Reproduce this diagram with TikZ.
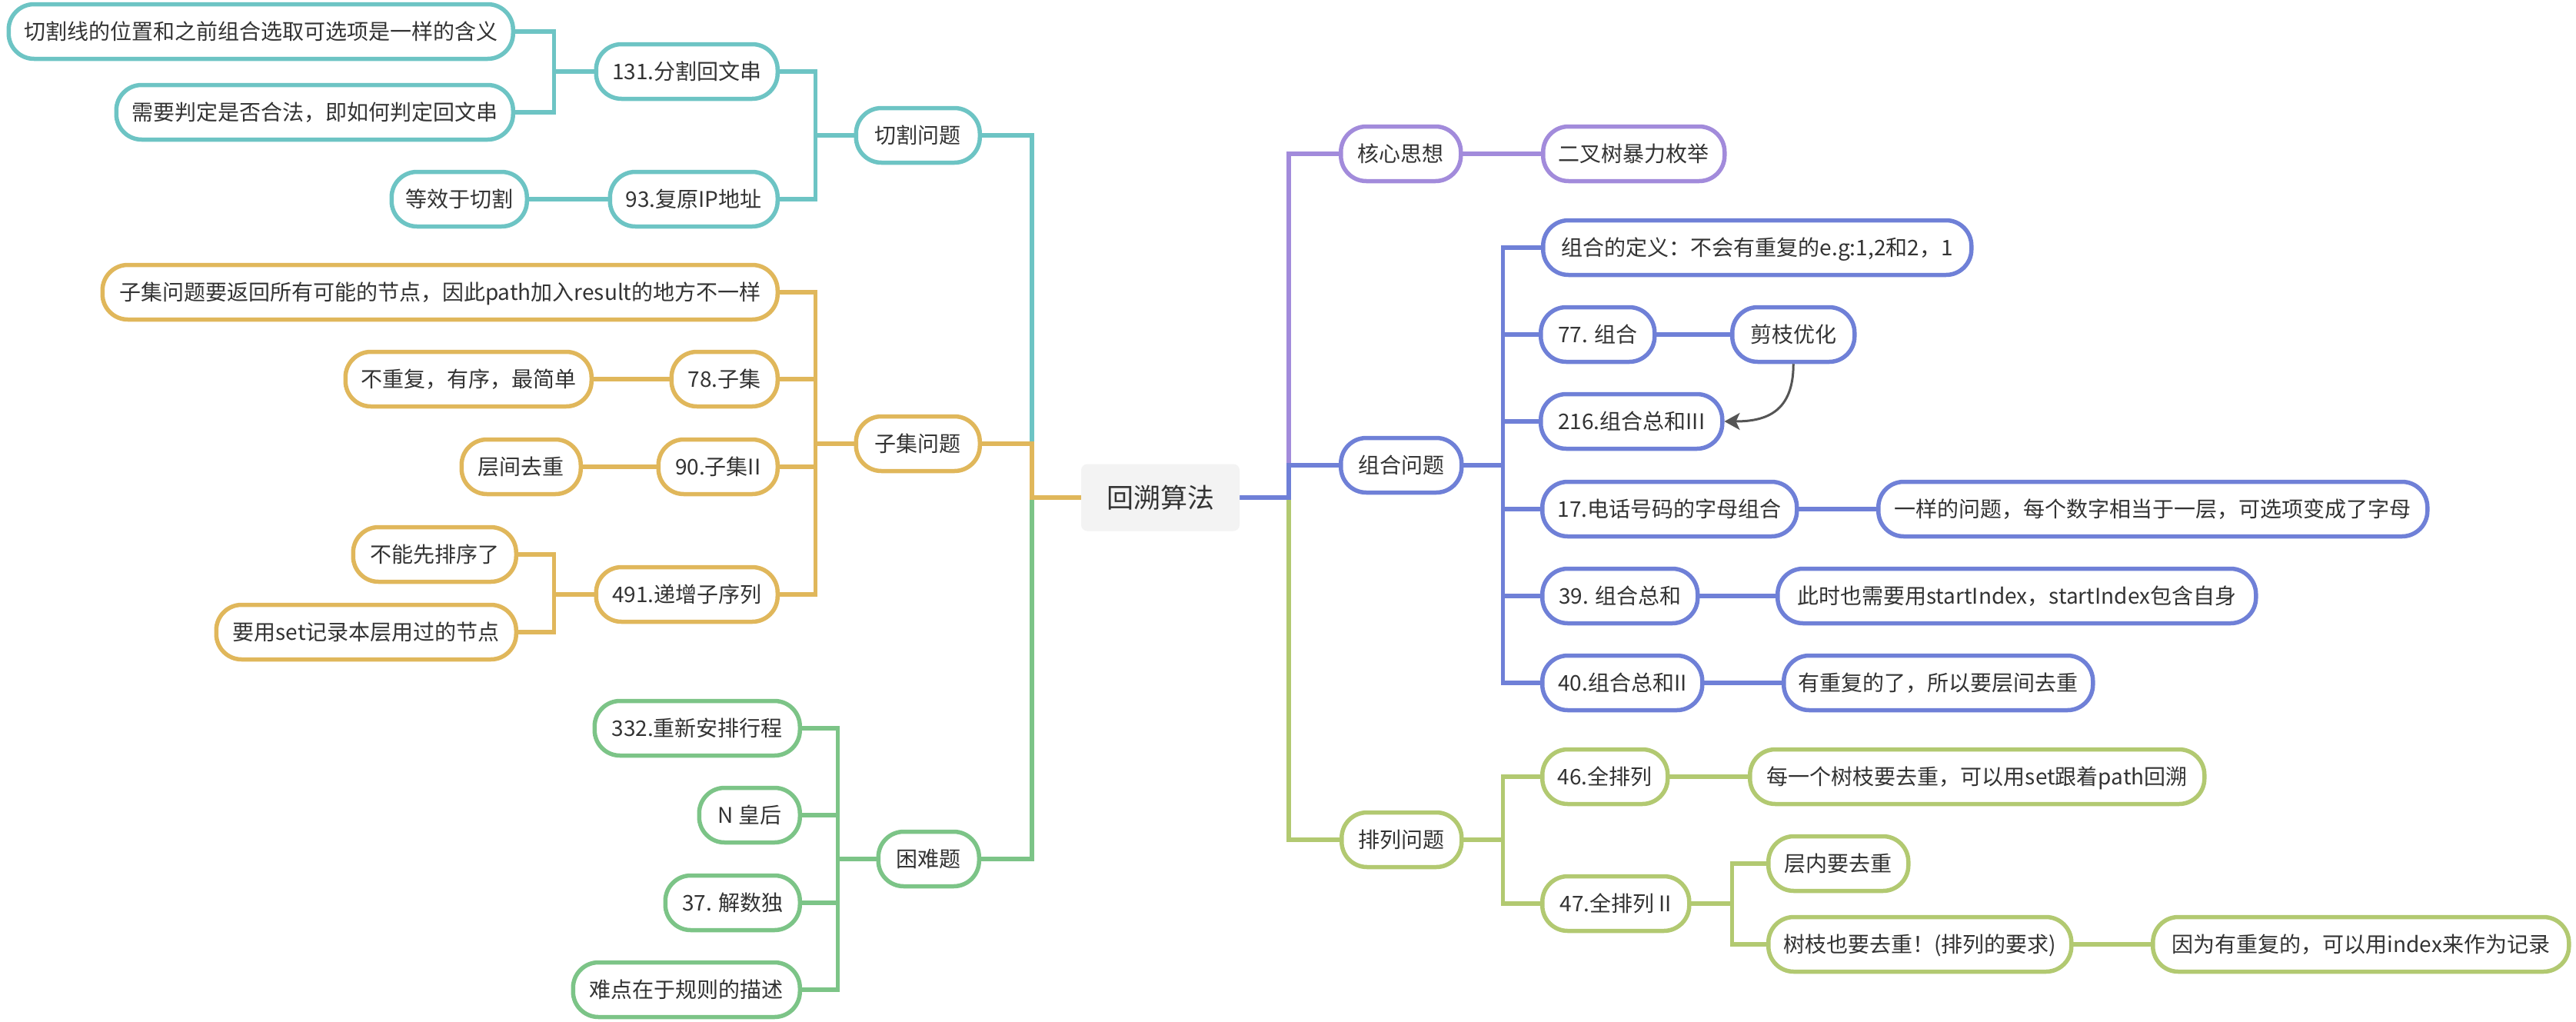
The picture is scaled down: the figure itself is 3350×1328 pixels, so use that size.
\documentclass[tikz,border=0pt]{standalone}
\usepackage{fontspec}
\setmainfont{Noto Sans CJK SC}
\usetikzlibrary{arrows.meta}
\pgfdeclarelayer{bg}
\pgfsetlayers{bg,main}
\definecolor{cteal}{HTML}{6DC4C4}
\definecolor{cyel}{HTML}{E0B75B}
\definecolor{cgrn}{HTML}{7CC487}
\definecolor{cpur}{HTML}{A28BDB}
\definecolor{cblu}{HTML}{6F80D7}
\definecolor{coli}{HTML}{B2C971}
\definecolor{cgray}{HTML}{F3F3F3}
\definecolor{txt}{HTML}{333333}
\definecolor{arrc}{HTML}{555555}
\begin{document}
\begin{tikzpicture}[x=1pt,y=-1pt,
  box/.style={draw=#1, line width=5.5pt, rounded corners=33pt, fill=white,
    minimum height=71pt, inner xsep=16pt, inner ysep=0pt,
    text height=24pt, text depth=3pt,
    font=\fontsize{28pt}{34pt}\selectfont, text=txt},
  conn/.style={draw=#1, line width=5.5pt, line cap=rect},
  arr/.style={draw=arrc, line width=3pt, -{Stealth[length=20pt,width=22pt,inset=5pt]}}
]
\begin{pgfonlayer}{bg}
\fill[white] (0,0) rectangle (3350,1328);
\end{pgfonlayer}
\useasboundingbox (0,0) rectangle (3350,1328);

% center
\node[fill=cgray, rounded corners=8pt, minimum width=206pt, minimum height=87pt,
  inner sep=0pt, font=\fontsize{35pt}{40pt}\selectfont, text=txt,
  text height=30pt, text depth=4pt] (C) at (1509,647) {回溯算法};

% left level 1
\node[box=cteal, anchor=east, minimum width=161pt] (L1) at (1277,176) {切割问题};
\node[box=cyel, anchor=east, minimum width=161pt] (L2) at (1277,577) {子集问题};
\node[box=cgrn, anchor=east, minimum width=131pt] (L3) at (1276,1117) {困难题};

% cut
\node[box=cteal, anchor=east, minimum width=236pt] (a1) at (1014,93) {131.分割回文串};
\node[box=cteal, anchor=east, minimum width=218pt] (a2) at (1014,259) {93.复原IP地址};
\node[box=cteal, anchor=east, minimum width=656pt] (a11) at (670,41) {切割线的位置和之前组合选取可选项是一样的含义};
\node[box=cteal, anchor=east, minimum width=516pt] (a12) at (670,146) {需要判定是否合法，即如何判定回文串};
\node[box=cteal, anchor=east, minimum width=176pt] (a21) at (688,259) {等效于切割};

% subset
\node[box=cyel, anchor=east, minimum width=878pt] (b0) at (1014,380) {子集问题要返回所有可能的节点，因此path加入result的地方不一样};
\node[box=cyel, anchor=east, minimum width=138pt] (b1) at (1014,493) {78.子集};
\node[box=cyel, anchor=east, minimum width=320pt] (b11) at (772,493) {不重复，有序，最简单};
\node[box=cyel, anchor=east, minimum width=155pt] (b2) at (1014,607) {90.子集II};
\node[box=cyel, anchor=east, minimum width=155pt] (b21) at (758,607) {层间去重};
\node[box=cyel, anchor=east, minimum width=236pt] (b3) at (1014,773) {491.递增子序列};
\node[box=cyel, anchor=east, minimum width=212pt] (b31) at (674,721) {不能先排序了};
\node[box=cyel, anchor=east, minimum width=390pt] (b32) at (674,822) {要用set记录本层用过的节点};

% hard
\node[box=cgrn, anchor=east, minimum width=267pt] (c1) at (1043,947) {332.重新安排行程};
\node[box=cgrn, anchor=east, minimum width=131pt] (c2) at (1043,1060) {N 皇后};
\node[box=cgrn, anchor=east, minimum width=175pt] (c3) at (1043,1174) {37. 解数独};
\node[box=cgrn, anchor=east, minimum width=295pt] (c4) at (1043,1287) {难点在于规则的描述};

% right level 1
\node[box=cpur, anchor=west, minimum width=156pt] (R1) at (1741,200) {核心思想};
\node[box=cblu, anchor=west, minimum width=157pt] (R2) at (1741,605) {组合问题};
\node[box=coli, anchor=west, minimum width=156pt] (R3) at (1742,1092) {排列问题};

\node[box=cpur, anchor=west, minimum width=236pt] (r11) at (2004,200) {二叉树暴力枚举};

% combination
\node[box=cblu, anchor=west, minimum width=557pt] (d0) at (2004,322) {组合的定义：不会有重复的e.g:1,2和2，1};
\node[box=cblu, anchor=west, minimum width=148pt] (d1) at (2001,435) {77. 组合};
\node[box=cblu, anchor=west, minimum width=159pt] (d11) at (2250,435) {剪枝优化};
\node[box=cblu, anchor=west, minimum width=236pt] (d2) at (2001,548) {216.组合总和III};
\node[box=cblu, anchor=west, minimum width=331pt] (d3) at (2003,662) {17.电话号码的字母组合};
\node[box=cblu, anchor=west, minimum width=714pt] (d31) at (2440,662) {一样的问题，每个数字相当于一层，可选项变成了字母};
\node[box=cblu, anchor=west, minimum width=202pt] (d4) at (2003,775) {39. 组合总和};
\node[box=cblu, anchor=west, minimum width=622pt] (d41) at (2309,775) {此时也需要用startIndex，startIndex包含自身};
\node[box=cblu, anchor=west, minimum width=208pt] (d5) at (2003,888) {40.组合总和II};
\node[box=cblu, anchor=west, minimum width=402pt] (d51) at (2317,888) {有重复的了，所以要层间去重};

% permutation
\node[box=coli, anchor=west, minimum width=163pt] (e1) at (2003,1010) {46.全排列};
\node[box=coli, anchor=west, minimum width=591pt] (e11) at (2273,1010) {每一个树枝要去重，可以用set跟着path回溯};
\node[box=coli, anchor=west, minimum width=191pt] (e2) at (2003,1175) {47.全排列 II};
\node[box=coli, anchor=west, minimum width=182pt] (e21) at (2297,1123) {层内要去重};
\node[box=coli, anchor=west, minimum width=394pt] (e22) at (2297,1228) {树枝也要去重！(排列的要求)};
\node[box=coli, anchor=west, minimum width=541pt] (e221) at (2797,1228) {因为有重复的，可以用index来作为记录};

\begin{pgfonlayer}{bg}
% main left
\draw[conn=cteal] (C.west) -- ++(-64,0) |- (L1.east);
\draw[conn=cgrn] (C.west) -- ++(-64,0) |- (L3.east);
\draw[conn=cyel] (C.west) -- ++(-64,0) |- (L2.east);
% main right
\draw[conn=cpur] (C.east) -- ++(64,0) |- (R1.west);
\draw[conn=coli] (C.east) -- ++(64,0) |- (R3.west);
\draw[conn=cblu] (C.east) -- ++(64,0) |- (R2.west);
% cut
\draw[conn=cteal] (L1.west) -- ++(-50,0) |- (a1.east);
\draw[conn=cteal] (L1.west) -- ++(-50,0) |- (a2.east);
\draw[conn=cteal] (a1.west) -- ++(-52,0) |- (a11.east);
\draw[conn=cteal] (a1.west) -- ++(-52,0) |- (a12.east);
\draw[conn=cteal] (a2.west) -- (a21.east);
% subset
\draw[conn=cyel] (L2.west) -- ++(-50,0) |- (b0.east);
\draw[conn=cyel] (L2.west) -- ++(-50,0) |- (b1.east);
\draw[conn=cyel] (L2.west) -- ++(-50,0) |- (b2.east);
\draw[conn=cyel] (L2.west) -- ++(-50,0) |- (b3.east);
\draw[conn=cyel] (b1.west) -- (b11.east);
\draw[conn=cyel] (b2.west) -- (b21.east);
\draw[conn=cyel] (b3.west) -- ++(-52,0) |- (b31.east);
\draw[conn=cyel] (b3.west) -- ++(-52,0) |- (b32.east);
% hard
\draw[conn=cgrn] (L3.west) -- ++(-50,0) |- (c1.east);
\draw[conn=cgrn] (L3.west) -- ++(-50,0) |- (c2.east);
\draw[conn=cgrn] (L3.west) -- ++(-50,0) |- (c3.east);
\draw[conn=cgrn] (L3.west) -- ++(-50,0) |- (c4.east);
% core
\draw[conn=cpur] (R1.east) -- (r11.west);
% combination
\draw[conn=cblu] (R2.east) -- ++(51,0) |- (d0.west);
\draw[conn=cblu] (R2.east) -- ++(51,0) |- (d1.west);
\draw[conn=cblu] (R2.east) -- ++(51,0) |- (d2.west);
\draw[conn=cblu] (R2.east) -- ++(51,0) |- (d3.west);
\draw[conn=cblu] (R2.east) -- ++(51,0) |- (d4.west);
\draw[conn=cblu] (R2.east) -- ++(51,0) |- (d5.west);
\draw[conn=cblu] (d1.east) -- (d11.west);
\draw[conn=cblu] (d3.east) -- (d31.west);
\draw[conn=cblu] (d4.east) -- (d41.west);
\draw[conn=cblu] (d5.east) -- (d51.west);
% permutation
\draw[conn=coli] (R3.east) -- ++(51,0) |- (e1.west);
\draw[conn=coli] (R3.east) -- ++(51,0) |- (e2.west);
\draw[conn=coli] (e1.east) -- (e11.west);
\draw[conn=coli] (e2.east) -- ++(53,0) |- (e21.west);
\draw[conn=coli] (e2.east) -- ++(53,0) |- (e22.west);
\draw[conn=coli] (e22.east) -- (e221.west);
\end{pgfonlayer}

\draw[arr] (d11.south) .. controls +(0,62) and +(55,0) .. (d2.east);
\end{tikzpicture}
\end{document}
